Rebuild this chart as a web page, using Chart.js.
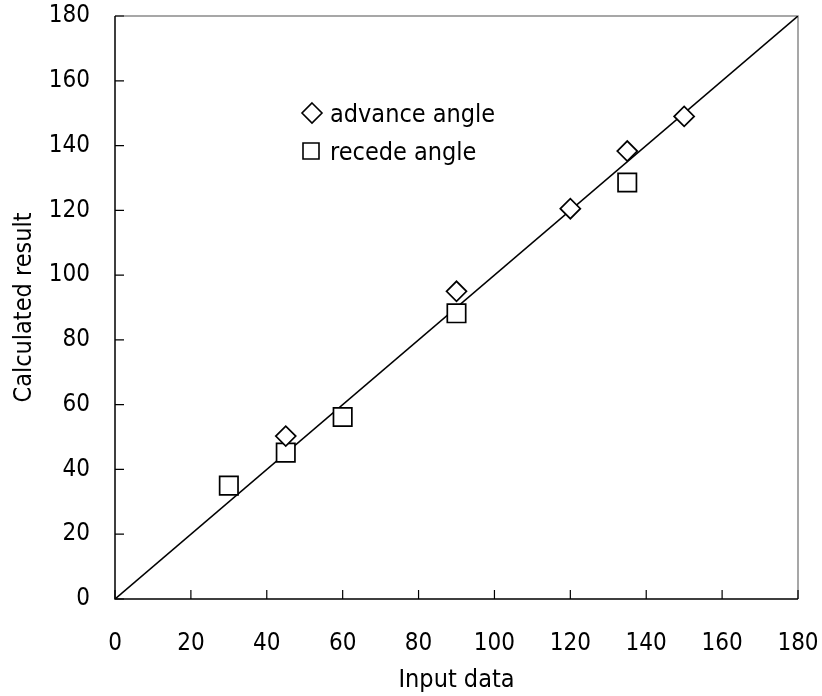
<!DOCTYPE html>
<html>
<head>
<meta charset="utf-8">
<script src="https://cdn.jsdelivr.net/npm/chart.js@4.4.1/dist/chart.umd.min.js"></script>
<style>
  html, body { margin: 0; padding: 0; background: #fff; }
  #wrap { width: 822px; height: 696px; }
</style>
</head>
<body>
<div id="wrap"><canvas id="chart" width="822" height="696"></canvas></div>
<script>
// ------------------------------------
// DATA
// ------------------------------------
const advanceX = [45, 90, 120, 135, 150];
const advanceY = [50.3, 95, 120.5, 138.3, 149];
const recedeX = [30, 45, 60, 90, 135];
const recedeY = [35, 45.2, 56.2, 88.2, 128.6];
const lineX = [0, 180];
const lineY = [0, 180];
const legendLabels = ["advance angle", "recede angle"];
const xTitle = "Input data";
const yTitle = "Calculated result";

const FONT = "'DejaVu Sans Condensed', 'DejaVu Sans', sans-serif";

const toPoints = (xs, ys) => xs.map((x, i) => ({ x: x, y: ys[i] }));

// no extra room for overhanging tick labels
function noOverhang(s) {
  s.paddingLeft = 0;
  s.paddingRight = 0;
  s.paddingTop = 0;
  s.paddingBottom = 0;
}

// ------------------------------------
// PLUGIN: frame, inner ticks, legend
// ------------------------------------
const framePlugin = {
  id: "frame",
  beforeDatasetsDraw(chart) {
    const { ctx, chartArea: a, scales } = chart;
    ctx.save();
    // top + right edge (gray)
    ctx.strokeStyle = "#8a8a8a";
    ctx.lineWidth = 1.5;
    ctx.beginPath();
    ctx.moveTo(a.left, a.top);
    ctx.lineTo(a.right, a.top);
    ctx.lineTo(a.right, a.bottom);
    ctx.stroke();
    // axis lines (black)
    ctx.strokeStyle = "#000";
    ctx.lineWidth = 1.5;
    ctx.beginPath();
    ctx.moveTo(a.left, a.top);
    ctx.lineTo(a.left, a.bottom);
    ctx.lineTo(a.right, a.bottom);
    ctx.stroke();
    // inward tick marks
    ctx.lineWidth = 1.2;
    ctx.beginPath();
    scales.x.ticks.forEach((t) => {
      const px = scales.x.getPixelForValue(t.value);
      ctx.moveTo(px, a.bottom);
      ctx.lineTo(px, a.bottom - 9);
    });
    scales.y.ticks.forEach((t) => {
      const py = scales.y.getPixelForValue(t.value);
      ctx.moveTo(a.left, py);
      ctx.lineTo(a.left + 9, py);
    });
    ctx.stroke();
    ctx.restore();
  },
  afterDraw(chart) {
    const { ctx } = chart;
    ctx.save();
    ctx.strokeStyle = "#000";
    ctx.lineWidth = 1.6;
    ctx.fillStyle = "#fff";
    // diamond
    ctx.beginPath();
    ctx.moveTo(312, 103);
    ctx.lineTo(322, 113);
    ctx.lineTo(312, 123);
    ctx.lineTo(302, 113);
    ctx.closePath();
    ctx.fill();
    ctx.stroke();
    // square
    ctx.beginPath();
    ctx.rect(303, 143, 16, 16);
    ctx.fill();
    ctx.stroke();
    ctx.fillStyle = "#000";
    ctx.font = "25px " + FONT;
    ctx.textBaseline = "alphabetic";
    ctx.textAlign = "left";
    ctx.fillText(legendLabels[0], 330, 122);
    ctx.fillText(legendLabels[1], 330, 160);
    ctx.restore();
  },
};

// ------------------------------------
// CHART
// ------------------------------------
const ctx = document.getElementById("chart").getContext("2d");

window.myChart = new Chart(ctx, {
  type: "scatter",
  data: {
    datasets: [
      {
        type: "line",
        label: "y = x",
        data: toPoints(lineX, lineY),
        borderColor: "#000",
        borderWidth: 1.6,
        pointRadius: 0,
        fill: false,
        order: 3,
      },
      {
        label: legendLabels[0],
        data: toPoints(advanceX, advanceY),
        pointStyle: "rectRot",
        pointRadius: 10,
        pointHoverRadius: 10,
        borderColor: "#000",
        backgroundColor: "#fff",
        borderWidth: 1.7,
        order: 1,
      },
      {
        label: legendLabels[1],
        data: toPoints(recedeX, recedeY),
        pointStyle: "rect",
        pointRadius: 13,
        pointHoverRadius: 13,
        borderColor: "#000",
        backgroundColor: "#fff",
        borderWidth: 1.7,
        order: 2,
      },
    ],
  },
  options: {
    responsive: false,
    animation: false,
    layout: { padding: { top: 16, right: 24, left: 0, bottom: 0 } },
    plugins: {
      legend: { display: false },
      tooltip: { enabled: false },
    },
    scales: {
      x: {
        type: "linear",
        min: 0,
        max: 180,
        afterFit: (s) => { s.height = 97; noOverhang(s); },
        ticks: {
          stepSize: 20,
          color: "#000",
          padding: 30,
          font: { family: FONT, size: 24 },
        },
        grid: { drawOnChartArea: false, drawTicks: false },
        border: { display: false },
        title: {
          display: true,
          text: xTitle,
          color: "#000",
          font: { family: FONT, size: 25 },
          padding: { top: 0, bottom: 1 },
        },
      },
      y: {
        type: "linear",
        min: 0,
        max: 180,
        afterFit: (s) => { s.width = 115; noOverhang(s); },
        ticks: {
          stepSize: 20,
          color: "#000",
          padding: 25,
          font: { family: FONT, size: 24 },
        },
        grid: { drawOnChartArea: false, drawTicks: false },
        border: { display: false },
        title: {
          display: true,
          text: yTitle,
          color: "#000",
          font: { family: FONT, size: 25 },
          padding: { top: 9, bottom: 0 },
        },
      },
    },
  },
  plugins: [framePlugin],
});
</script>
</body>
</html>
